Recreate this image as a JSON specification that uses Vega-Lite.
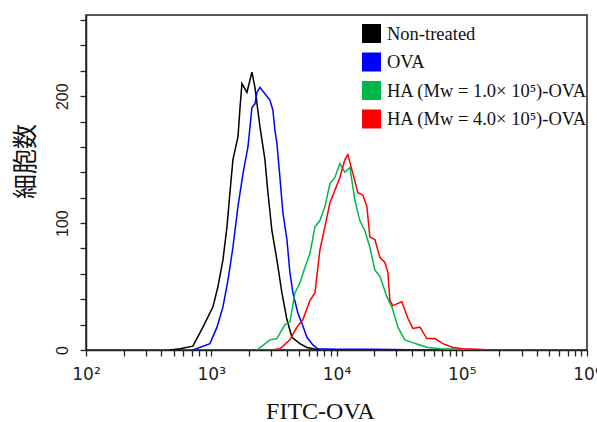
{
  "$schema": "https://vega.github.io/schema/vega-lite/v6.json",
  "width": 501,
  "height": 335,
  "autosize": "none",
  "padding": {"left": 86, "top": 15, "right": 10, "bottom": 72},
  "background": "white",
  "config": {
    "view": {"stroke": "#222", "strokeWidth": 1.5},
    "axis": {"domainColor": "#222", "tickColor": "#222", "domainWidth": 1.5, "tickWidth": 1.3, "grid": false, "labelColor": "#222", "titleColor": "#111"}
  },
  "datasets": {
    "h": [
      {"x": 468, "n": 0, "s": "Non-treated"},
      {"x": 563, "n": 1, "s": "Non-treated"},
      {"x": 714, "n": 3, "s": "Non-treated"},
      {"x": 858, "n": 18, "s": "Non-treated"},
      {"x": 1032, "n": 34, "s": "Non-treated"},
      {"x": 1131, "n": 50, "s": "Non-treated"},
      {"x": 1240, "n": 71, "s": "Non-treated"},
      {"x": 1335, "n": 97, "s": "Non-treated"},
      {"x": 1410, "n": 124, "s": "Non-treated"},
      {"x": 1490, "n": 150, "s": "Non-treated"},
      {"x": 1634, "n": 168, "s": "Non-treated"},
      {"x": 1694, "n": 190, "s": "Non-treated"},
      {"x": 1758, "n": 210, "s": "Non-treated"},
      {"x": 1927, "n": 203, "s": "Non-treated"},
      {"x": 2112, "n": 219, "s": "Non-treated"},
      {"x": 2233, "n": 207, "s": "Non-treated"},
      {"x": 2447, "n": 176, "s": "Non-treated"},
      {"x": 2683, "n": 150, "s": "Non-treated"},
      {"x": 2835, "n": 124, "s": "Non-treated"},
      {"x": 3051, "n": 94, "s": "Non-treated"},
      {"x": 3344, "n": 71, "s": "Non-treated"},
      {"x": 3666, "n": 45, "s": "Non-treated"},
      {"x": 4019, "n": 24, "s": "Non-treated"},
      {"x": 4406, "n": 10, "s": "Non-treated"},
      {"x": 5105, "n": 5, "s": "Non-treated"},
      {"x": 5805, "n": 2, "s": "Non-treated"},
      {"x": 7372, "n": 0, "s": "Non-treated"},

      {"x": 714, "n": 0, "s": "OVA"},
      {"x": 976, "n": 5, "s": "OVA"},
      {"x": 1111, "n": 18, "s": "OVA"},
      {"x": 1240, "n": 34, "s": "OVA"},
      {"x": 1360, "n": 55, "s": "OVA"},
      {"x": 1490, "n": 81, "s": "OVA"},
      {"x": 1634, "n": 113, "s": "OVA"},
      {"x": 1791, "n": 139, "s": "OVA"},
      {"x": 1963, "n": 160, "s": "OVA"},
      {"x": 2112, "n": 191, "s": "OVA"},
      {"x": 2233, "n": 194, "s": "OVA"},
      {"x": 2316, "n": 203, "s": "OVA"},
      {"x": 2447, "n": 207, "s": "OVA"},
      {"x": 2683, "n": 202, "s": "OVA"},
      {"x": 2941, "n": 197, "s": "OVA"},
      {"x": 3107, "n": 189, "s": "OVA"},
      {"x": 3224, "n": 173, "s": "OVA"},
      {"x": 3344, "n": 163, "s": "OVA"},
      {"x": 3534, "n": 136, "s": "OVA"},
      {"x": 3734, "n": 108, "s": "OVA"},
      {"x": 4019, "n": 87, "s": "OVA"},
      {"x": 4247, "n": 61, "s": "OVA"},
      {"x": 4487, "n": 45, "s": "OVA"},
      {"x": 4920, "n": 29, "s": "OVA"},
      {"x": 5295, "n": 21, "s": "OVA"},
      {"x": 5805, "n": 10, "s": "OVA"},
      {"x": 6482, "n": 4, "s": "OVA"},
      {"x": 7107, "n": 1, "s": "OVA"},
      {"x": 10000, "n": 0.5, "s": "OVA"},
      {"x": 20000, "n": 0.5, "s": "OVA"},
      {"x": 50000, "n": 0, "s": "OVA"},
      {"x": 85000, "n": 0, "s": "OVA"},

      {"x": 2316, "n": 0, "s": "HA (Mw = 1.0× 10⁵)-OVA"},
      {"x": 2941, "n": 8, "s": "HA (Mw = 1.0× 10⁵)-OVA"},
      {"x": 3344, "n": 9, "s": "HA (Mw = 1.0× 10⁵)-OVA"},
      {"x": 3874, "n": 20, "s": "HA (Mw = 1.0× 10⁵)-OVA"},
      {"x": 4247, "n": 22, "s": "HA (Mw = 1.0× 10⁵)-OVA"},
      {"x": 4656, "n": 45, "s": "HA (Mw = 1.0× 10⁵)-OVA"},
      {"x": 5105, "n": 53, "s": "HA (Mw = 1.0× 10⁵)-OVA"},
      {"x": 5595, "n": 65, "s": "HA (Mw = 1.0× 10⁵)-OVA"},
      {"x": 6134, "n": 76, "s": "HA (Mw = 1.0× 10⁵)-OVA"},
      {"x": 6725, "n": 97, "s": "HA (Mw = 1.0× 10⁵)-OVA"},
      {"x": 7372, "n": 102, "s": "HA (Mw = 1.0× 10⁵)-OVA"},
      {"x": 8079, "n": 113, "s": "HA (Mw = 1.0× 10⁵)-OVA"},
      {"x": 8859, "n": 131, "s": "HA (Mw = 1.0× 10⁵)-OVA"},
      {"x": 9710, "n": 136, "s": "HA (Mw = 1.0× 10⁵)-OVA"},
      {"x": 10644, "n": 147, "s": "HA (Mw = 1.0× 10⁵)-OVA"},
      {"x": 11668, "n": 140, "s": "HA (Mw = 1.0× 10⁵)-OVA"},
      {"x": 12792, "n": 144, "s": "HA (Mw = 1.0× 10⁵)-OVA"},
      {"x": 14023, "n": 118, "s": "HA (Mw = 1.0× 10⁵)-OVA"},
      {"x": 15371, "n": 102, "s": "HA (Mw = 1.0× 10⁵)-OVA"},
      {"x": 16853, "n": 94, "s": "HA (Mw = 1.0× 10⁵)-OVA"},
      {"x": 18472, "n": 81, "s": "HA (Mw = 1.0× 10⁵)-OVA"},
      {"x": 20249, "n": 63, "s": "HA (Mw = 1.0× 10⁵)-OVA"},
      {"x": 22210, "n": 58, "s": "HA (Mw = 1.0× 10⁵)-OVA"},
      {"x": 25254, "n": 42, "s": "HA (Mw = 1.0× 10⁵)-OVA"},
      {"x": 27682, "n": 34, "s": "HA (Mw = 1.0× 10⁵)-OVA"},
      {"x": 30903, "n": 18, "s": "HA (Mw = 1.0× 10⁵)-OVA"},
      {"x": 35154, "n": 8, "s": "HA (Mw = 1.0× 10⁵)-OVA"},
      {"x": 39967, "n": 6, "s": "HA (Mw = 1.0× 10⁵)-OVA"},
      {"x": 46309, "n": 4, "s": "HA (Mw = 1.0× 10⁵)-OVA"},
      {"x": 53630, "n": 2, "s": "HA (Mw = 1.0× 10⁵)-OVA"},
      {"x": 66880, "n": 1, "s": "HA (Mw = 1.0× 10⁵)-OVA"},
      {"x": 100000, "n": 0.5, "s": "HA (Mw = 1.0× 10⁵)-OVA"},
      {"x": 130000, "n": 0, "s": "HA (Mw = 1.0× 10⁵)-OVA"},

      {"x": 3000, "n": 0, "s": "HA (Mw = 4.0× 10⁵)-OVA"},
      {"x": 3534, "n": 1, "s": "HA (Mw = 4.0× 10⁵)-OVA"},
      {"x": 4247, "n": 8, "s": "HA (Mw = 4.0× 10⁵)-OVA"},
      {"x": 4830, "n": 18, "s": "HA (Mw = 4.0× 10⁵)-OVA"},
      {"x": 5393, "n": 24, "s": "HA (Mw = 4.0× 10⁵)-OVA"},
      {"x": 6134, "n": 39, "s": "HA (Mw = 4.0× 10⁵)-OVA"},
      {"x": 6725, "n": 45, "s": "HA (Mw = 4.0× 10⁵)-OVA"},
      {"x": 7372, "n": 79, "s": "HA (Mw = 4.0× 10⁵)-OVA"},
      {"x": 8079, "n": 97, "s": "HA (Mw = 4.0× 10⁵)-OVA"},
      {"x": 8859, "n": 116, "s": "HA (Mw = 4.0× 10⁵)-OVA"},
      {"x": 9710, "n": 126, "s": "HA (Mw = 4.0× 10⁵)-OVA"},
      {"x": 10644, "n": 136, "s": "HA (Mw = 4.0× 10⁵)-OVA"},
      {"x": 11668, "n": 150, "s": "HA (Mw = 4.0× 10⁵)-OVA"},
      {"x": 12331, "n": 154, "s": "HA (Mw = 4.0× 10⁵)-OVA"},
      {"x": 13518, "n": 139, "s": "HA (Mw = 4.0× 10⁵)-OVA"},
      {"x": 14817, "n": 124, "s": "HA (Mw = 4.0× 10⁵)-OVA"},
      {"x": 16246, "n": 122, "s": "HA (Mw = 4.0× 10⁵)-OVA"},
      {"x": 17483, "n": 113, "s": "HA (Mw = 4.0× 10⁵)-OVA"},
      {"x": 18472, "n": 89, "s": "HA (Mw = 4.0× 10⁵)-OVA"},
      {"x": 20249, "n": 87, "s": "HA (Mw = 4.0× 10⁵)-OVA"},
      {"x": 22210, "n": 73, "s": "HA (Mw = 4.0× 10⁵)-OVA"},
      {"x": 24343, "n": 69, "s": "HA (Mw = 4.0× 10⁵)-OVA"},
      {"x": 25722, "n": 61, "s": "HA (Mw = 4.0× 10⁵)-OVA"},
      {"x": 26686, "n": 39, "s": "HA (Mw = 4.0× 10⁵)-OVA"},
      {"x": 28198, "n": 35, "s": "HA (Mw = 4.0× 10⁵)-OVA"},
      {"x": 33258, "n": 38, "s": "HA (Mw = 4.0× 10⁵)-OVA"},
      {"x": 37141, "n": 25, "s": "HA (Mw = 4.0× 10⁵)-OVA"},
      {"x": 40710, "n": 17, "s": "HA (Mw = 4.0× 10⁵)-OVA"},
      {"x": 46309, "n": 18, "s": "HA (Mw = 4.0× 10⁵)-OVA"},
      {"x": 52661, "n": 9, "s": "HA (Mw = 4.0× 10⁵)-OVA"},
      {"x": 60990, "n": 9, "s": "HA (Mw = 4.0× 10⁵)-OVA"},
      {"x": 70690, "n": 5, "s": "HA (Mw = 4.0× 10⁵)-OVA"},
      {"x": 84920, "n": 2, "s": "HA (Mw = 4.0× 10⁵)-OVA"},
      {"x": 102040, "n": 1, "s": "HA (Mw = 4.0× 10⁵)-OVA"},
      {"x": 131950, "n": 0.5, "s": "HA (Mw = 4.0× 10⁵)-OVA"},
      {"x": 177070, "n": 0, "s": "HA (Mw = 4.0× 10⁵)-OVA"}
    ]
  },
  "data": {"name": "h"},
  "mark": {"type": "line", "strokeWidth": 1.5, "clip": true},
  "encoding": {
    "x": {
      "field": "x",
      "type": "quantitative",
      "scale": {"type": "log", "domain": [100, 1000000], "nice": false},
      "axis": {
        "title": "FITC-OVA",
        "titleFont": "Liberation Serif",
        "titleFontSize": 24,
        "titleFontWeight": "normal",
        "titleX": 234,
        "titleY": 61,
        "titleBaseline": "middle",
        "titleAlign": "center",
        "values": [100, 200, 300, 400, 500, 600, 700, 800, 900, 1000, 2000, 3000, 4000, 5000, 6000, 7000, 8000, 9000, 10000, 20000, 30000, 40000, 50000, 60000, 70000, 80000, 90000, 100000, 200000, 300000, 400000, 500000, 600000, 700000, 800000, 900000, 1000000],
        "labelExpr": "datum.value == 100 ? '10²' : datum.value == 1000 ? '10³' : datum.value == 10000 ? '10⁴' : datum.value == 100000 ? '10⁵' : datum.value == 1000000 ? '10⁶' : ''",
        "labelFont": "DejaVu Sans",
        "labelFontSize": 17,
        "labelPadding": 10,
        "labelFlush": false,
        "labelOverlap": false,
        "tickSize": 6
      }
    },
    "y": {
      "field": "n",
      "type": "quantitative",
      "scale": {"domain": [0, 264], "nice": false},
      "axis": {
        "title": "細胞数",
        "titleFont": "Noto Sans CJK JP",
        "titleFontSize": 25,
        "titleFontWeight": "normal",
        "titleAngle": -90,
        "titleX": -61,
        "titleY": 146,
        "titleAlign": "center",
        "titleBaseline": "middle",
        "values": [0, 20, 40, 60, 80, 100, 120, 140, 160, 180, 200, 220, 240, 260],
        "labelExpr": "datum.value % 100 == 0 ? datum.label : ''",
        "labelAngle": -90,
        "labelAlign": "center",
        "labelBaseline": "bottom",
        "labelFont": "Liberation Sans",
        "labelFontSize": 16,
        "labelPadding": 10,
        "labelFlush": false,
        "labelOverlap": false,
        "tickSize": 6
      }
    },
    "color": {
      "field": "s",
      "type": "nominal",
      "scale": {
        "domain": ["Non-treated", "OVA", "HA (Mw = 1.0× 10⁵)-OVA", "HA (Mw = 4.0× 10⁵)-OVA"],
        "range": ["#000000", "#0000ff", "#00b84a", "#ff0000"]
      },
      "legend": {
        "title": null,
        "orient": "none",
        "legendX": 276,
        "legendY": 9,
        "padding": 0,
        "symbolType": "square",
        "symbolSize": 361,
        "symbolStrokeWidth": 0,
        "rowPadding": 9.5,
        "labelFont": "Liberation Serif",
        "labelFontSize": 18.5,
        "labelColor": "#111",
        "labelOffset": 6,
        "labelLimit": 300,
        "encode": {
          "symbols": {"update": {"fill": {"scale": "color", "field": "value"}, "fillOpacity": {"value": 1}, "strokeWidth": {"value": 0}}}
        }
      }
    }
  }
}
